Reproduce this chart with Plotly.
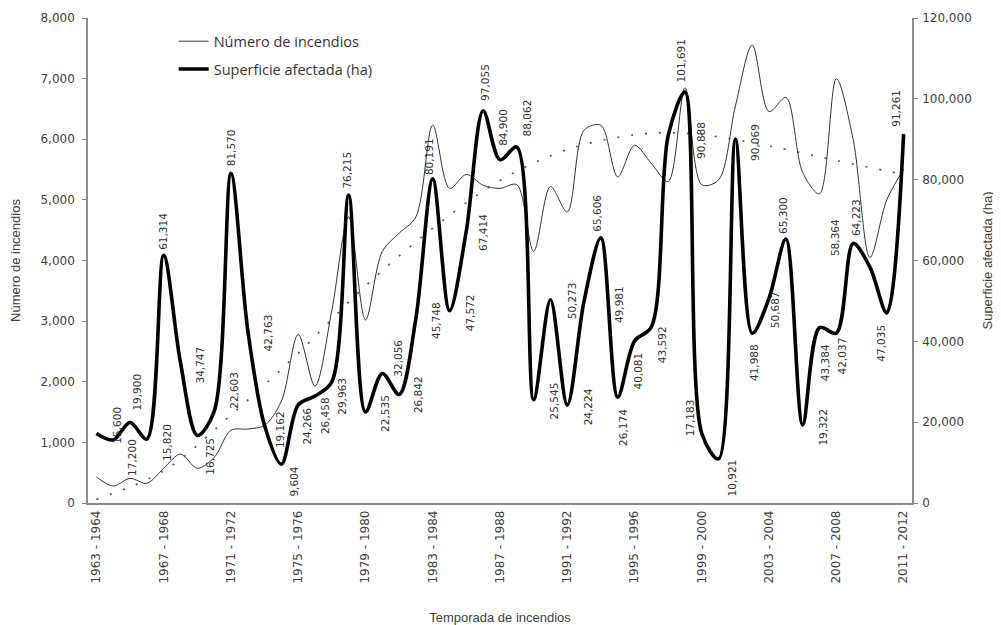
import plotly.graph_objects as go

# ---------------- data ----------------
seasons = [f"{y} - {y + 1}" for y in range(1963, 2012)]
fires = [430, 280, 407, 325, 572, 808, 572, 750, 1200, 1220, 1280, 1680, 2780, 1930, 3180,
         4720, 3020, 4150, 4450, 4720, 6235, 5190, 5420, 5240, 5190, 5250, 4150, 5220, 4800,
         6150, 6230, 5380, 5900, 5600, 5300, 6850, 5250, 5330, 6550, 7555, 6455, 6690, 5450,
         5100, 7000, 6000, 4050, 5000, 5500]
area = [17200, 15600, 19900, 15820, 61314, 34747, 16725, 22603, 81570, 42763, 19162, 9604,
        24266, 26458, 29963, 76215, 22535, 32056, 26842, 45748, 80191, 47572, 67414, 97055,
        84900, 88062, 25545, 50273, 24224, 49981, 65606, 26174, 40081, 43592, 90888, 101691,
        17183, 10921, 90069, 41988, 50687, 65300, 19322, 43384, 42037, 64223, 58364, 47035,
        91261]
trend_idx = [0, 4, 8, 12, 16, 20, 24, 28, 32, 34, 36, 40, 44, 48]
trend_val = [60, 530, 1450, 2470, 3580, 4530, 5320, 5830, 6075, 6105, 6075, 5890, 5650, 5420]

# label offsets in pixels (dx right, dy down) -- styling only
label_off = [(36, 24), (3.5, -15), (7, -30), (20, 3), (0, -24), (19.5, 2), (13, 21), (20, -21),
             (0, -26), (20.5, 3), (15.5, 4.5), (13, 17), (8.5, 21), (10, 20), (10, 14),
             (-2, -25), (19.5, 1), (16, -15), (19, 0.5), (20, 2), (-3.5, -22), (20, 2),
             (16.5, 1.5), (2, -28), (3, -32), (10.5, -29), (20, 1), (21, 1), (21, 2), (35, 4),
             (-4, -25), (5, 30), (3, 30), (10, 18), (32, 5), (-3.5, -31), (-12, -16), (13, 19),
             (19.5, 3), (2.5, 29), (6, 12), (-3, -24), (20, 2), (5, 35), (6, 23), (3.5, -26),
             (-35, -30), (-6, 30), (-7, -26)]

idx = list(range(len(seasons)))
n = len(seasons)
rng = [-0.5, n - 0.5]
tick_font = dict(family="DejaVu Sans", size=12, color="#404040")
title_font = dict(family="Liberation Sans", size=13, color="#404040")
axis_col = "#8a8a8a"

fig = go.Figure()
fig.add_trace(go.Scatter(
    x=trend_idx, y=trend_val, mode="lines", showlegend=False, hoverinfo="skip",
    line=dict(color="#555555", width=1.7, dash="2px,12px", shape="spline", smoothing=1.0),
    yaxis="y"))
fig.add_trace(go.Scatter(
    x=idx, y=fires, mode="lines", name="Número de incendios", legendgroup="a",
    line=dict(color="#333333", width=1, shape="spline", smoothing=0.9), yaxis="y"))
fig.add_trace(go.Scatter(
    x=idx, y=area, mode="lines", name="Superficie afectada (ha)", legendgroup="b",
    line=dict(color="#000000", width=3.6, shape="spline", smoothing=0.9), yaxis="y2"))

for i, v in enumerate(area):
    dx, dy = label_off[i]
    fig.add_annotation(x=i, y=v, xref="x", yref="y2", text=f"{v:,}", showarrow=False,
                       textangle=-90, xanchor="center", yanchor="middle",
                       xshift=dx, yshift=-dy,
                       font=dict(family="DejaVu Sans", size=10.5, color="#303030"))

bounds = [b - 0.5 for b in range(n + 1)]
fig.update_layout(
    width=993, height=617, autosize=False,
    margin=dict(l=80, r=89, t=10, b=122, autoexpand=False),
    paper_bgcolor="white", plot_bgcolor="white",
    showlegend=True,
    legend=dict(x=0.104, y=0.985, xanchor="left", yanchor="top", bgcolor="rgba(0,0,0,0)",
                font=dict(family="Open Sans", size=14.5, color="#333333"),
                traceorder="grouped", tracegroupgap=6, itemwidth=30),
    xaxis=dict(range=rng, tickmode="array", tickvals=idx[::4], ticktext=seasons[::4],
               tickangle=-90, ticks="", showgrid=False, zeroline=False, showline=True,
               linecolor=axis_col, linewidth=1.5, tickfont=tick_font, automargin=False,
               ticklabelstandoff=1,
               title=dict(text="Temporada de incendios", font=title_font, standoff=36)),
    xaxis2=dict(range=rng, overlaying="x", anchor="y", side="bottom", tickmode="array",
                tickvals=bounds, ticks="outside", ticklen=4, tickcolor=axis_col,
                showticklabels=False, showgrid=False, zeroline=False, showline=False,
                automargin=False),
    xaxis3=dict(range=rng, overlaying="x", anchor="y", side="bottom", tickmode="array",
                tickvals=bounds, ticks="inside", ticklen=4, tickcolor=axis_col,
                showticklabels=False, showgrid=False, zeroline=False, showline=False,
                automargin=False),
    yaxis=dict(range=[0, 8000], dtick=1000, tickformat=",", ticks="outside", ticklen=4,
               tickcolor=axis_col, showgrid=False, zeroline=False, showline=True,
               linecolor=axis_col, linewidth=1.5, tickfont=tick_font, automargin=False,
               ticklabelstandoff=5,
               title=dict(text="Número de incendios", font=title_font, standoff=22)),
    yaxis2=dict(range=[0, 120000], dtick=20000, tickformat=",", overlaying="y", side="right",
                anchor="x", ticks="outside", ticklen=4, tickcolor=axis_col, showgrid=False,
                zeroline=False, showline=True, linecolor=axis_col, linewidth=1.5,
                tickfont=tick_font, automargin=False, ticklabelstandoff=2,
                title=dict(text="Superficie afectada (ha)", font=title_font, standoff=12)),
    yaxis3=dict(range=[0, 8000], dtick=1000, overlaying="y", side="left", anchor="x",
                ticks="inside", ticklen=4, tickcolor=axis_col, showticklabels=False,
                showgrid=False, zeroline=False, showline=False, automargin=False),
    yaxis4=dict(range=[0, 120000], dtick=20000, overlaying="y", side="right", anchor="x",
                ticks="inside", ticklen=4, tickcolor=axis_col, showticklabels=False,
                showgrid=False, zeroline=False, showline=False, automargin=False),
)

fig.write_html("out.html")
